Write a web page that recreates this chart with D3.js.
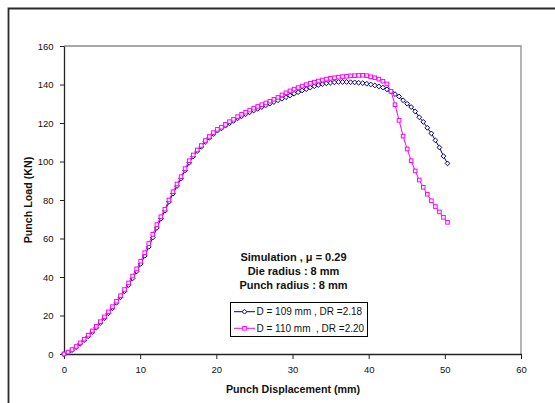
<!DOCTYPE html>
<html>
<head>
<meta charset="utf-8">
<script src="https://cdn.jsdelivr.net/npm/d3@7"></script>
<style>
  html, body { margin: 0; padding: 0; background: #fff; }
  svg { display: block; font-family: "Liberation Sans", Arial, sans-serif; }
</style>
</head>
<body>
<svg id="chart" width="555" height="403"></svg>
<script>
// Punch displacement (mm) at each recorded step
const displacement = [
  0, 0.53, 1.06, 1.59, 2.12, 2.65, 3.18, 3.71, 4.24, 4.77,
  5.30, 5.83, 6.36, 6.89, 7.42, 7.95, 8.48, 9.01, 9.54, 10.07,
  10.60, 11.13, 11.66, 12.19, 12.72, 13.25, 13.78, 14.31, 14.84, 15.37,
  15.90, 16.43, 16.96, 17.49, 18.02, 18.55, 19.08, 19.61, 20.14, 20.67,
  21.20, 21.73, 22.26, 22.79, 23.32, 23.85, 24.38, 24.91, 25.44, 25.97,
  26.50, 27.03, 27.56, 28.09, 28.62, 29.15, 29.68, 30.21, 30.74, 31.27,
  31.80, 32.33, 32.86, 33.39, 33.92, 34.45, 34.98, 35.51, 36.04, 36.57,
  37.10, 37.63, 38.16, 38.69, 39.22, 39.75, 40.28, 40.81, 41.34, 41.87,
  42.40, 42.93, 43.46, 43.99, 44.52, 45.05, 45.58, 46.11, 46.64, 47.17,
  47.70, 48.23, 48.76, 49.29, 49.82, 50.35
];

// Punch load (kN), blank D = 109 mm, DR = 2.18
const load109 = [
  0, 0.8, 2.0, 3.5, 5.3, 7.2, 9.2, 11.4, 13.7, 16.1,
  18.6, 21.1, 23.8, 26.6, 29.5, 32.6, 35.8, 39.3, 42.9, 46.8,
  51.0, 55.7, 60.5, 65.5, 70.3, 74.4, 79.0, 83.3, 87.3, 91.2,
  95.4, 99.3, 102.6, 105.4, 107.6, 110.2, 112.3, 114.3, 116.0, 117.2,
  118.6, 119.9, 121.1, 122.4, 123.5, 124.6, 125.6, 126.5, 127.4, 128.3,
  129.2, 130.1, 130.9, 131.8, 132.6, 133.4, 134.3, 135.2, 136.0, 136.9,
  137.6, 138.4, 139.1, 139.7, 140.2, 140.6, 140.9, 141.1, 141.3, 141.3,
  141.3, 141.2, 141.1, 140.9, 140.7, 140.4, 140.0, 139.5, 139.0, 138.4,
  137.5, 136.4, 135.0, 133.8, 131.8, 130.0, 128.3, 126.0, 123.0, 120.6,
  117.5, 114.6, 111.0, 107.3, 102.8, 99.0
];

// Punch load (kN), blank D = 110 mm, DR = 2.20
const load110 = [
  0, 1.0, 2.3, 3.9, 5.8, 7.7, 9.8, 12.0, 14.4, 16.8,
  19.3, 21.9, 24.6, 27.4, 30.3, 33.5, 36.9, 40.5, 44.2, 48.2,
  52.6, 57.4, 62.2, 67.2, 71.3, 75.2, 80.0, 84.3, 88.3, 92.1,
  96.3, 100.4, 103.4, 106.0, 108.3, 110.9, 113.0, 115.0, 116.7, 117.8,
  119.3, 120.7, 121.9, 123.3, 124.5, 125.6, 126.7, 127.7, 128.6, 129.5,
  130.4, 131.3, 132.3, 133.3, 134.6, 135.7, 136.7, 137.6, 138.4, 139.2,
  139.9, 140.6, 141.2, 141.8, 142.3, 142.8, 143.2, 143.5, 143.8, 144.1,
  144.3, 144.5, 144.6, 144.7, 144.8, 144.6, 144.0, 143.5, 142.8, 141.7,
  140.3, 136.5, 129.5, 121.4, 113.2, 106.5, 100.4, 95.1, 90.4, 86.6,
  83.0, 79.6, 76.6, 73.8, 71.0, 68.4
];

const xTicks = [0, 10, 20, 30, 40, 50, 60];
const yTicks = [0, 20, 40, 60, 80, 100, 120, 140, 160];

const seriesNames = ["D = 109 mm , DR =2.18", "D = 110 mm\u00a0 , DR =2.20"];
const notes = ["Simulation , \u03bc = 0.29", "Die radius : 8 mm", "Punch radius : 8 mm"];

const svg = d3.select("#chart");

// Page frame (left and top edges)
svg.append("path")
  .attr("d", "M8.5,403 L8.5,8.5 L555,8.5")
  .attr("fill", "none").attr("stroke", "#2a2a2a").attr("stroke-width", 1.8);

const x = d3.scaleLinear().domain([0, 60]).range([64, 521]);
const y = d3.scaleLinear().domain([0, 160]).range([354, 46]);

// Plot area frame (grey, top and right)
svg.append("path")
  .attr("d", `M${x(0)},${y(160)} L${x(60)},${y(160)} L${x(60)},${y(0)}`)
  .attr("fill", "none").attr("stroke", "#8c8c8c").attr("stroke-width", 1.3);

// Axes
const xAxis = svg.append("g")
  .attr("transform", `translate(0,${y(0)})`)
  .call(d3.axisBottom(x).tickValues(xTicks).tickSize(5).tickPadding(7.5).tickSizeOuter(0));
const yAxis = svg.append("g")
  .attr("transform", `translate(${x(0)},0)`)
  .call(d3.axisLeft(y).tickValues(yTicks).tickSize(4).tickPadding(6.5).tickSizeOuter(0));

[xAxis, yAxis].forEach(g => {
  g.select(".domain").attr("stroke", "#222").attr("stroke-width", 1.3);
  g.selectAll(".tick line").attr("stroke", "#222").attr("stroke-width", 1);
  g.selectAll(".tick text").attr("font-size", "9.5px").attr("fill", "#111")
    .attr("font-family", "'Liberation Sans', Arial, sans-serif");
});

// Axis titles
svg.append("text")
  .attr("x", 293).attr("y", 393)
  .attr("text-anchor", "middle")
  .attr("font-size", "10.7px").attr("font-weight", "bold").attr("fill", "#111")
  .text("Punch Displacement (mm)");
svg.append("text")
  .attr("transform", "translate(31.5,200) rotate(-90)")
  .attr("text-anchor", "middle")
  .attr("font-size", "10.7px").attr("font-weight", "bold").attr("fill", "#111")
  .text("Punch Load (KN)");

// Series
const series = [
  { values: load109, color: "#000080", shape: "diamond" },
  { values: load110, color: "#ff00ff", shape: "square" }
];

const line = d3.line().x(d => x(d[0])).y(d => y(d[1]));

function marker(sel, shape, color) {
  if (shape === "diamond") {
    sel.append("path")
      .attr("d", "M0,-2.4 L2.4,0 L0,2.4 L-2.4,0 Z")
      .attr("fill", "#fff").attr("stroke", color).attr("stroke-width", 1);
  } else {
    sel.append("rect")
      .attr("x", -1.8).attr("y", -1.8).attr("width", 3.6).attr("height", 3.6)
      .attr("fill", "#fff").attr("stroke", color).attr("stroke-width", 1);
  }
}

series.forEach(s => {
  const pts = displacement.map((d, i) => [d, s.values[i]]);
  const g = svg.append("g");
  g.append("path").datum(pts)
    .attr("d", line)
    .attr("fill", "none").attr("stroke", s.color).attr("stroke-width", 1);
  g.selectAll("g.pt").data(pts).enter().append("g")
    .attr("class", "pt")
    .attr("transform", d => `translate(${x(d[0])},${y(d[1])})`)
    .each(function () { marker(d3.select(this), s.shape, s.color); });
});

// Annotation
notes.forEach((t, i) => {
  svg.append("text")
    .attr("x", 293.5).attr("y", 260.5 + i * 14)
    .attr("text-anchor", "middle")
    .attr("font-size", "11px").attr("font-weight", "bold").attr("fill", "#111")
    .text(t);
});

// Legend
const legend = svg.append("g");
legend.append("rect")
  .attr("x", 230.5).attr("y", 302.5).attr("width", 137).attr("height", 34)
  .attr("fill", "#fff").attr("stroke", "#000").attr("stroke-width", 1);
series.forEach((s, i) => {
  const cy = 311.7 + i * 16.6;
  legend.append("line")
    .attr("x1", 234).attr("x2", 255).attr("y1", cy).attr("y2", cy)
    .attr("stroke", s.color).attr("stroke-width", 1);
  const m = legend.append("g").attr("transform", `translate(244.5,${cy})`);
  marker(m, s.shape, s.color);
  legend.append("text")
    .attr("x", 256.5).attr("y", cy + 3.6)
    .attr("font-size", "10px").attr("fill", "#111")
    .text(seriesNames[i]);
});
</script>
</body>
</html>
